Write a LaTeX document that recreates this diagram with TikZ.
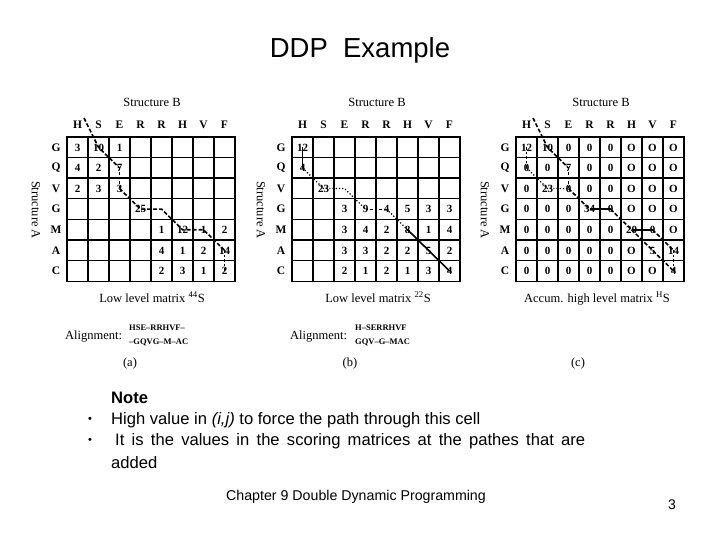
\documentclass[tikz,border=0pt]{standalone}
\usepackage{fontspec}
\setmainfont{Liberation Serif}
\newfontfamily\slidefont{Liberation Sans}
\usetikzlibrary{calc}

\begin{document}
\begin{tikzpicture}[x=1pt, y=-1pt,
    cell/.style={draw, line width=1.4pt, minimum width=21pt, minimum height=20.6pt,
      inner sep=0pt, text height=7.5pt, text depth=0pt,
      font=\fontsize{11}{11}\selectfont\bfseries},
    lbl/.style={font=\fontsize{11.5}{12}\selectfont\bfseries, inner sep=0pt},
    captext/.style={font=\fontsize{12.5}{13}\selectfont, inner sep=0pt},
    aln/.style={font=\fontsize{8.5}{9}\selectfont\bfseries, inner sep=0pt, anchor=west},
    thickpath/.style={line width=1.6pt, dash pattern=on 4pt off 2pt},
    thinpath/.style={line width=0.7pt, dash pattern=on 2.5pt off 2pt},
    dotpath/.style={line width=1.2pt, dotted},
    solidpath/.style={line width=1.6pt},
    slide/.style={font=\slidefont\fontsize{16.6}{20}\selectfont, inner sep=0pt, anchor=west}]

\useasboundingbox (0,0) rectangle (720,540);

\node[font=\slidefont\fontsize{27.5}{30}\selectfont] (title) at (360,50) {DDP\ \ Example};

\foreach \p/\xo in {a/67, b/292, c/516} {
  \node[captext, anchor=base] (\p-sb) at (\xo+85,107) {Structure B};
  \node[captext, rotate=-90] (\p-sa) at (\xo-31,210) {Structure A};
  \foreach \h [count=\c] in {H,S,E,R,R,H,V,F}
    \node[lbl] (\p-h\c) at (\xo+21*\c-10.5,125) {\h};
  \foreach \g [count=\r] in {G,Q,V,G,M,A,C}
    \node[lbl] (\p-g\r) at (\xo-11,137+20.6*\r-10.3) {\g};
}

\foreach \vals [count=\r] in {{3,10,1,{},{},{},{},{}},{4,2,7,{},{},{},{},{}},
    {2,3,3,{},{},{},{},{}},{{},{},{},25,{},{},{},{}},{{},{},{},{},1,12,1,2},
    {{},{},{},{},4,1,2,14},{{},{},{},{},2,3,1,2}}
  \foreach \v [count=\c] in \vals
    \node[cell] (a-\r-\c) at (67+21*\c-10.5,137+20.6*\r-10.3) {\v};

\foreach \vals [count=\r] in {{12,{},{},{},{},{},{},{}},{4,{},{},{},{},{},{},{}},
    {{},23,{},{},{},{},{},{}},{{},{},3,9,4,5,3,3},{{},{},3,4,2,8,1,4},
    {{},{},3,3,2,2,5,2},{{},{},2,1,2,1,3,4}}
  \foreach \v [count=\c] in \vals
    \node[cell] (b-\r-\c) at (292+21*\c-10.5,137+20.6*\r-10.3) {\v};

\foreach \vals [count=\r] in {{12,10,0,0,0,O,O,O},{0,0,7,0,0,O,O,O},
    {0,23,0,0,0,O,O,O},{0,0,0,34,0,O,O,O},{0,0,0,0,0,20,0,O},
    {0,0,0,0,0,O,5,14},{0,0,0,0,0,O,O,4}}
  \foreach \v [count=\c] in \vals
    \node[cell] (c-\r-\c) at (516+21*\c-10.5,137+20.6*\r-10.3) {\v};

\coordinate (a-st) at (84,118);
\draw[thickpath] (a-st) -- (a-1-2.center) -- (a-2-3.center);
\draw[thinpath] (a-2-3.center) -- (a-3-3.center);
\draw[thickpath] (a-3-3.center) -- (a-4-4.center) -- (a-4-5.center)
  -- (a-5-6.center) -- (a-5-7.center) -- (a-6-8.center);
\draw[thinpath] (a-6-8.center) -- (a-7-8.center);

\draw[line width=0.8pt] (b-1-1.center) -- (b-2-1.center);
\draw[dotpath] (b-2-1.center) -- (b-3-2.center) -- (b-3-3.center) -- (b-4-4.center);
\draw[thinpath] (b-4-4.center) -- (b-4-5.center);
\draw[dotpath] (b-4-5.center) -- (b-5-6.center);
\draw[solidpath] (b-5-6.center) -- (b-6-7.center) -- (b-7-8.center);

\coordinate (c-st) at (533,118);
\draw[thickpath] (c-st) -- (c-1-2.center) -- (c-2-3.center);
\draw[thinpath] (c-2-3.center) -- (c-3-3.center);
\draw[thickpath] (c-3-3.center) -- (c-4-4.center);
\draw[solidpath] (c-4-4.center) -- (c-4-5.center);
\draw[thickpath] (c-4-5.center) -- (c-5-6.center);
\draw[solidpath] (c-5-6.center) -- (c-5-7.center);
\draw[thickpath] (c-5-7.center) -- (c-6-8.center);
\draw[thinpath] (c-6-8.center) -- (c-7-8.center);
\draw[thinpath] (c-1-1.center) -- (c-2-1.center);
\draw[dotpath] (c-2-1.center) -- (c-3-2.center) -- (c-3-3.center);
\draw[thickpath] (c-5-6.center) -- (c-6-7.center) -- (c-7-8.center);

\node[captext, anchor=base] (a-low) at (152,302) {Low level matrix \textsuperscript{44}S};
\node[captext, anchor=base west] (a-al) at (65,339) {Alignment:};
\node[aln] (a-al1) at (129,328) {HSE--RRHVF--};
\node[aln] (a-al2) at (129,342) {--GQVG--M--AC};
\node[captext, anchor=base] (a-tag) at (130,366) {(a)};

\node[captext, anchor=base] (b-low) at (378,302) {Low level matrix \textsuperscript{22}S};
\node[captext, anchor=base west] (b-al) at (290,339) {Alignment:};
\node[aln] (b-al1) at (355,328) {H--SERRHVF};
\node[aln] (b-al2) at (355,342) {GQV--G--MAC};
\node[captext, anchor=base] (b-tag) at (350,366) {(b)};

\node[captext, anchor=base] (c-low) at (597,302) {Accum. high level matrix \textsuperscript{H}S};
\node[captext, anchor=base] (c-tag) at (578,366) {(c)};

\node[slide, font=\slidefont\bfseries\fontsize{16.6}{20}\selectfont] (note) at (111,398) {Note};
\node[font=\slidefont\fontsize{11}{12}\selectfont] (dot1) at (90,420) {•};
\node[font=\slidefont\fontsize{11}{12}\selectfont] (dot2) at (90,441) {•};
\node[slide] (line1) at (111,420) {High value in \textit{(i,j)} to force the path through this cell};
\node[slide] (line2) at (115,441) {\makebox[470pt][s]{It is the values in the scoring matrices at the pathes that are}};
\node[slide] (line3) at (111,463) {added};

\node[font=\slidefont\fontsize{14.2}{16}\selectfont] (foot) at (356,497) {Chapter 9 Double Dynamic Programming};
\node[font=\slidefont\fontsize{14}{16}\selectfont] (page) at (672,505) {3};
\end{tikzpicture}
\end{document}
